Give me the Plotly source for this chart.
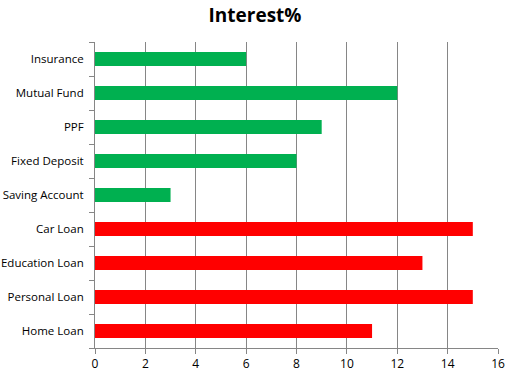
import plotly.graph_objects as go

categories = ["Home Loan", "Personal Loan", "Education Loan", "Car Loan",
              "Saving Account", "Fixed Deposit", "PPF", "Mutual Fund", "Insurance"]
interest = [11, 15, 13, 15, 3, 8, 9, 12, 6]
colors = ["#FF0000"] * 4 + ["#00B050"] * 5
x_ticks = [0, 2, 4, 6, 8, 10, 12, 14, 16]

fig = go.Figure(go.Bar(
    y=categories, x=interest, orientation="h",
    marker=dict(color=colors, line=dict(width=0)),
))

fig.update_layout(
    width=508, height=377,
    margin=dict(l=95, r=10, t=42, b=29, autoexpand=False),
    paper_bgcolor="white", plot_bgcolor="white",
    bargap=0.59,
    showlegend=False,
    title=dict(text="<b>Interest%</b>", x=0.502, xanchor="center", y=0.96, yanchor="middle",
               font=dict(family="Open Sans", size=19, color="black")),
    font=dict(family="Open Sans", size=11, color="black"),
)
fig.update_xaxes(range=[0, 16], tickvals=x_ticks, showgrid=True, gridcolor="#868686", gridwidth=1,
                 showline=True, linecolor="#868686", linewidth=1, automargin=False,
                 ticks="outside", ticklen=5, tickcolor="#868686", zeroline=False,
                 tickfont=dict(size=12))
fig.update_yaxes(type="category", categoryorder="array", categoryarray=categories,
                 showline=True, linecolor="#868686", linewidth=1, automargin=False,
                 ticks="outside", ticklen=5, tickcolor="#868686", tickson="boundaries",
                 showgrid=False, ticklabelstandoff=8, tickfont=dict(size=11.5))

fig.write_html("out.html", config={"displayModeBar": False},
               post_script="document.body.style.margin='0';document.body.style.padding='0';")
